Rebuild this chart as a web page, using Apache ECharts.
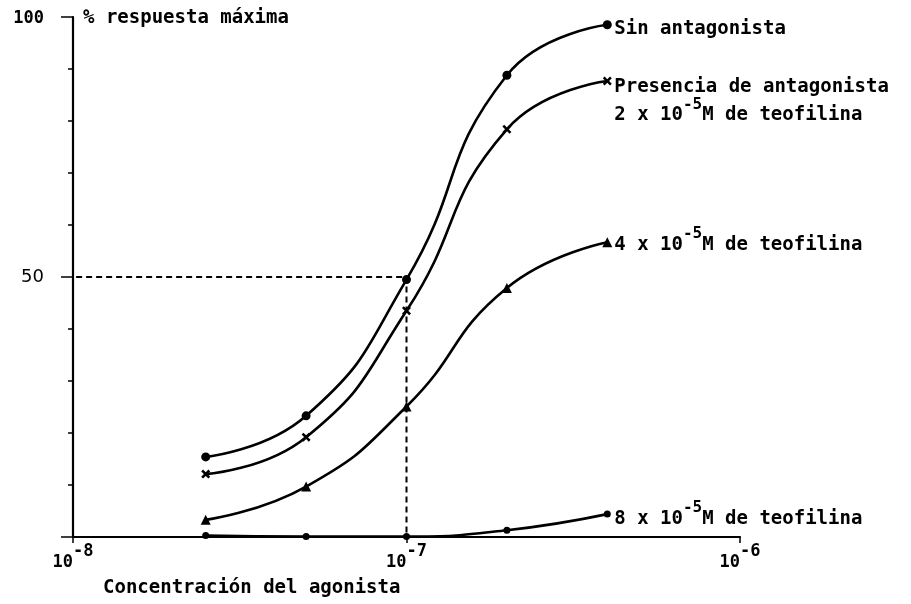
<!DOCTYPE html>
<html>
<head>
<meta charset="utf-8">
<script src="https://cdn.jsdelivr.net/npm/echarts@6/dist/echarts.min.js"></script>
<style>html,body{margin:0;padding:0;background:#fff}#c{width:911px;height:604px}</style>
</head>
<body>
<div id="c"></div>
<script>
// ---- data ----
const conc = [2.5e-8, 5e-8, 1e-7, 2e-7, 4e-7];
const sinAntagonista = [15.4, 23.3, 49.5, 88.8, 98.5];
const teofilina2 = [12.1, 19.2, 43.5, 78.4, 87.7];
const teofilina4 = [3.3, 9.7, 25.1, 47.9, 56.7];
const teofilina8 = [0.3, 0.1, 0.1, 1.3, 4.4];
const xTickValues = [1e-8, 1e-7, 1e-6];
const yTickLabels = { 50: '50', 100: '100' };
const guideX = [8.9e-9, 1e-7, 1e-7];
const guideY = [50, 50, 0];

const MONO = '"DejaVu Sans Mono", "Liberation Mono", monospace';
const pair = (xs, ys) => xs.map((x, i) => [x, ys[i]]);

const richLbl = {
  b: { fontFamily: MONO, fontSize: 19, fontWeight: 'bold', color: '#000', verticalAlign: 'bottom', lineHeight: 28 },
  s: { fontFamily: MONO, fontSize: 16, fontWeight: 'bold', color: '#000', verticalAlign: 'top', lineHeight: 28 }
};
const conLabel = n => '{b|' + n + ' x 10}{s|-5}{b|M de teofilina}';

const crossPath = 'path://M0,2 L2,0 L5,3 L8,0 L10,2 L7,5 L10,8 L8,10 L5,7 L2,10 L0,8 L3,5 Z';

function curve(name, ys, symbol, size, label, offset) {
  return {
    name, type: 'line', smooth: 0.5, data: pair(conc, ys),
    symbol, symbolSize: size, showAllSymbol: true,
    lineStyle: { color: '#000', width: 2.6 },
    itemStyle: { color: '#000' },
    endLabel: { show: true, formatter: () => label, rich: richLbl, distance: 7, offset: offset || [0, 0] },
    z: 3
  };
}

const chart = echarts.init(document.getElementById('c'), null, { renderer: 'canvas' });
chart.setOption({
  backgroundColor: '#fff',
  animation: false,
  title: [
    { text: '% respuesta máxima', left: 78, top: 4, textStyle: { fontFamily: MONO, fontSize: 19, fontWeight: 'bold', color: '#000' } },
    { text: 'Concentración del agonista', left: 98, top: 574, textStyle: { fontFamily: MONO, fontSize: 19, fontWeight: 'bold', color: '#000' } }
  ],
  grid: { left: 73, right: 171, top: 17, bottom: 67, containLabel: false },
  xAxis: {
    type: 'log', logBase: 10, min: 1e-8, max: 1e-6,
    axisLine: { lineStyle: { color: '#000', width: 2.2 } },
    axisTick: { show: true, length: 6, lineStyle: { color: '#000', width: 1.5 } },
    splitLine: { show: false },
    minorTick: { show: false },
    axisLabel: {
      margin: 6,
      formatter: v => {
        const e = Math.round(Math.log10(v));
        return xTickValues.some(t => Math.abs(Math.log10(t) - e) < 1e-6) ? '{b|10}{s|' + e + '}' : '';
      },
      rich: {
        b: { fontFamily: MONO, fontSize: 17, fontWeight: 'bold', color: '#000', verticalAlign: 'bottom', lineHeight: 28 },
        s: { fontFamily: MONO, fontSize: 17, fontWeight: 'bold', color: '#000', verticalAlign: 'top', lineHeight: 28 }
      }
    }
  },
  yAxis: {
    type: 'value', min: 0, max: 100, interval: 50,
    axisLine: { show: true, lineStyle: { color: '#000', width: 2.2 } },
    axisTick: { show: true, length: 12, lineStyle: { color: '#000', width: 1.5 } },
    minorTick: { show: true, splitNumber: 5, length: 5, lineStyle: { color: '#000', width: 1.5 } },
    splitLine: { show: false },
    axisLabel: {
      margin: 29,
      formatter: v => v === 100 ? '{h|' + yTickLabels[v] + '}' : (yTickLabels[v] ? '{m|' + yTickLabels[v] + '}' : ''),
      rich: {
        h: { fontFamily: MONO, fontSize: 17, fontWeight: 'bold', color: '#000', padding: [4, 0, 0, 0] },
        m: { fontFamily: '"DejaVu Sans", sans-serif', fontSize: 18, color: '#000' }
      }
    }
  },
  series: [
    {
      name: 'guia', type: 'line', data: pair(guideX, guideY), clip: false,
      symbol: 'none', lineStyle: { color: '#000', width: 2, type: [6, 4] }, z: 2, silent: true
    },
    curve('Sin antagonista', sinAntagonista, 'circle', 9, '{b|Sin antagonista}'),
    curve('2 x 10-5M', teofilina2, crossPath, 9,
      '{b|Presencia de antagonista}\n' + conLabel(2), [0, 16]),
    curve('4 x 10-5M', teofilina4, 'triangle', 10, conLabel(4), [0, -2]),
    curve('8 x 10-5M', teofilina8, 'circle', 7, conLabel(8), [0, 0])
  ]
});
</script>
</body>
</html>
